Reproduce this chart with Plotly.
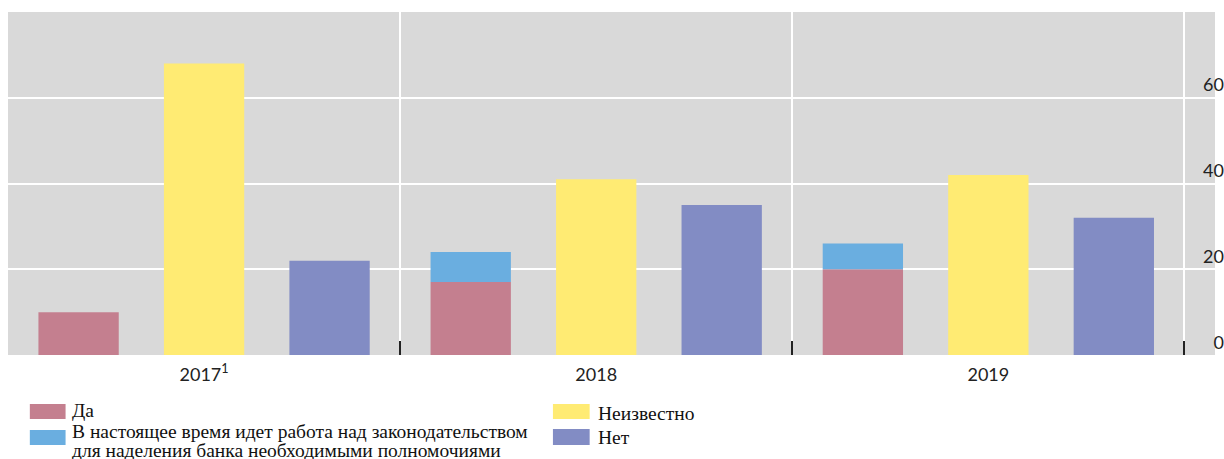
import plotly.graph_objects as go

years = ["2017<sup>1</sup>", "2018", "2019"]
da = [10, 17, 20]
in_progress = [0, 7, 6]
unknown = [68, 41, 42]
net = [22, 35, 32]

names = ["Да",
         "В настоящее время идет работа над законодательством<br>для наделения банка необходимыми полномочиями",
         "Неизвестно", "Нет"]
colors = ["#C47F8F", "#6AAEE0", "#FFEB73", "#828CC4"]

W, H = 1224, 459
ML, MR, MT, MB = 8, 0, 12, 104
PW, PH = W - ML - MR, H - MT - MB


def px(x):
    return (x - ML) / PW


def py(y):
    return (H - MB - y) / PH


fig = go.Figure()
fig.add_bar(x=years, y=da, name=names[0], marker_color=colors[0], offsetgroup="a",
            marker_line_width=0)
fig.add_bar(x=years, y=in_progress, base=da, name=names[1], marker_color=colors[1],
            offsetgroup="a", marker_line_width=0)
fig.add_bar(x=years, y=unknown, name=names[2], marker_color=colors[2], offsetgroup="b",
            marker_line_width=0)
fig.add_bar(x=years, y=net, name=names[3], marker_color=colors[3], offsetgroup="c",
            marker_line_width=0)

fig.update_layout(
    width=W, height=H,
    margin=dict(l=ML, r=MR, t=MT, b=MB, pad=0),
    paper_bgcolor="white", plot_bgcolor="#D9D9D9",
    barmode="group", bargap=0.04, bargroupgap=0.36,
    showlegend=False,
)
fig.update_xaxes(
    type="category", range=[-0.5, 2.578], tickson="boundaries",
    showgrid=True, gridcolor="white", gridwidth=1.5,
    ticks="inside", ticklen=14, tickwidth=1.5, tickcolor="#222",
    showline=False, zeroline=False, ticklabelstandoff=7,
    tickfont=dict(family="Lato", size=18, color="#222"),
)
fig.update_yaxes(
    range=[0, 80], dtick=20, side="right",
    showgrid=True, gridcolor="white", gridwidth=1.5,
    ticklabelposition="inside top", ticklabelstandoff=-12,
    zeroline=False, showline=False,
    tickfont=dict(family="Lato", size=18, color="#222"),
)

# manual legend: (swatch x0, y0, x1, y1, text x, [text line centres], series index)
leg = [
    (30, 404, 66, 419, 71, [410], 0),
    (30, 430, 66, 445, 71, [431, 450], 1),
    (557, 404, 594, 419, 601, [413], 2),
    (557, 429, 594, 445, 601, [437], 3),
]
for x0, y0, x1, y1, tx, tys, i in leg:
    fig.add_shape(type="rect", xref="paper", yref="paper",
                  x0=px(x0), x1=px(x1), y0=py(y1), y1=py(y0),
                  fillcolor=colors[i], line_width=0)
    for line, ty in zip(names[i].split("<br>"), tys):
        fig.add_annotation(xref="paper", yref="paper", x=px(tx), y=py(ty),
                           xanchor="left", yanchor="middle", align="left",
                           text=line, showarrow=False, borderpad=0,
                           font=dict(family="Liberation Serif",
                                     size=19.5, color="#111"))

fig.write_html("out.html")
